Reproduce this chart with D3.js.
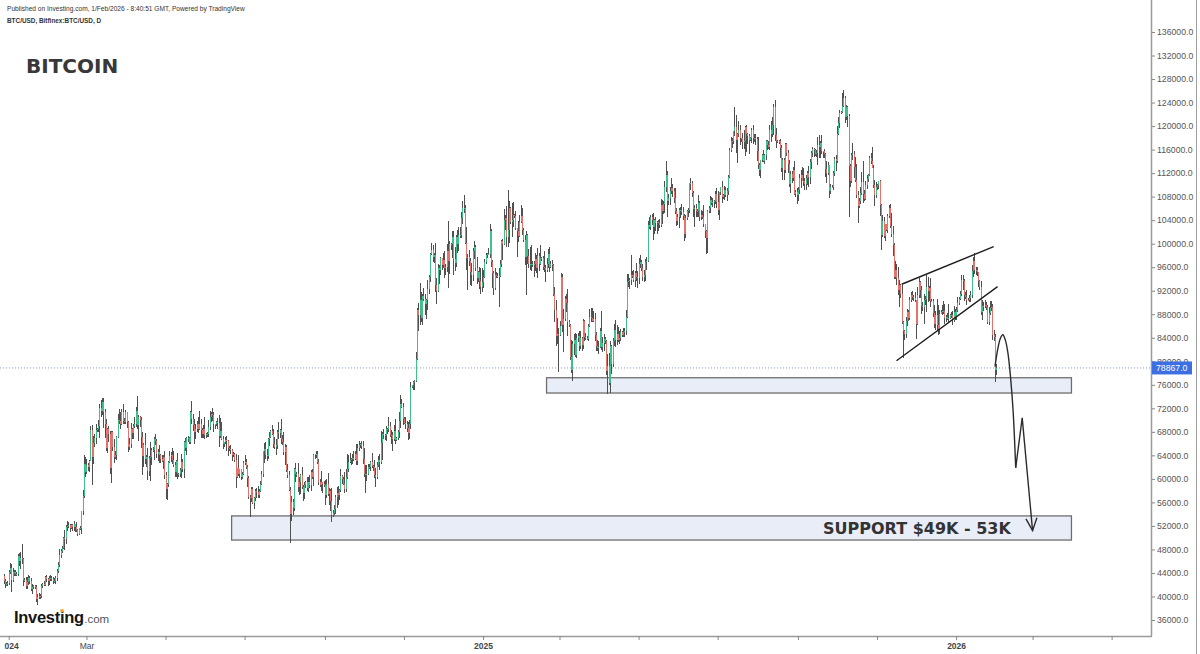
<!DOCTYPE html>
<html><head><meta charset="utf-8">
<script src="https://cdn.jsdelivr.net/npm/d3@7"></script>
<style>html,body{margin:0;padding:0;background:#fff;}svg{display:block;}</style>
</head><body>
<svg id="c" width="1200" height="654"></svg>
<script>
// ---------- DATA (prices in thousands of USD, daily candles from 2023-12-28) ----------
const startDate = "2023-12-28";
const firstOpen = 43.4;
const closes = [
/*Dec23*/42.6,42.1,42.2,42.3,
/*Jan24*/44.2,44.9,42.8,44.2,44.2,43.9,43.9,46.9,46.1,46.6,46.3,42.8,42.8,41.7,42.5,43.1,42.7,41.3,41.6,41.7,41.6,39.5,39.9,40.1,40.0,41.8,42.1,42.0,43.3,42.9,42.6,
/*Feb24*/43.1,43.2,43.0,42.6,42.7,43.1,44.3,45.3,47.1,47.8,48.3,50.0,49.7,51.8,52.0,52.1,51.7,52.1,51.8,52.3,51.9,51.3,50.7,51.6,51.7,54.5,57.1,62.5,61.2,
/*Mar24*/62.4,62.0,63.1,68.3,63.8,66.1,66.9,68.3,68.5,69.0,72.1,71.5,73.1,71.4,69.4,65.3,68.4,67.6,61.9,67.9,65.5,63.8,64.0,67.2,70.0,69.9,69.4,71.3,69.9,69.6,71.3,
/*Apr24*/69.7,65.5,66.0,68.5,67.8,69.0,69.4,71.6,69.1,70.6,70.0,67.1,63.9,65.7,63.4,63.8,61.3,63.5,63.8,64.9,64.9,66.8,66.4,64.3,64.5,64.0,63.4,63.1,63.8,60.6,
/*May24*/58.3,59.1,62.9,63.9,64.0,63.2,62.3,61.2,63.1,60.8,60.8,61.5,62.9,61.6,66.3,65.2,67.0,67.0,66.3,71.4,70.1,69.1,67.9,68.5,69.3,68.5,69.4,68.3,67.6,68.4,67.5,
/*Jun24*/67.7,67.7,68.8,70.5,71.1,70.8,69.3,69.3,69.6,69.5,67.3,68.2,66.8,66.0,66.2,66.6,66.5,65.2,65.0,64.9,64.1,64.2,63.2,60.3,61.8,60.9,61.6,60.3,60.9,62.7,
/*Jul24*/62.9,62.1,60.2,57.0,56.7,58.2,55.9,56.7,58.0,57.7,57.3,57.9,59.2,60.8,64.7,65.1,64.1,63.9,66.7,67.2,68.2,67.6,65.9,65.4,65.8,67.9,67.8,68.3,66.8,66.2,64.6,
/*Aug24*/65.4,61.5,60.7,58.1,54.0,56.0,55.0,61.7,60.9,60.9,58.7,59.4,60.6,58.7,57.6,58.9,59.5,58.4,59.5,59.0,61.2,60.4,64.1,64.2,64.2,62.8,59.4,59.0,59.4,59.1,58.9,
/*Sep24*/57.3,59.1,57.5,58.0,56.2,53.9,54.2,54.9,57.0,57.6,57.3,58.1,60.5,60.0,59.2,58.2,60.3,61.7,62.9,63.2,63.3,63.6,63.3,64.3,63.1,65.2,65.8,65.9,65.6,63.3,
/*Oct24*/60.8,60.6,60.8,62.1,62.1,62.8,62.2,62.1,60.6,60.3,62.4,63.2,62.9,66.1,67.6,67.4,67.4,68.4,68.4,69.0,67.4,67.4,66.7,68.2,66.6,67.0,68.0,69.9,72.7,72.3,70.2,
/*Nov24*/69.5,69.3,68.7,67.8,69.4,75.6,75.9,76.5,76.7,80.4,88.7,87.9,90.5,87.3,91.1,90.6,89.8,90.5,92.3,94.3,98.3,98.9,97.7,98.0,93.0,91.9,95.9,95.6,97.5,96.4,
/*Dec24*/97.2,95.8,96.0,98.8,97.0,99.9,99.9,101.2,97.4,96.7,101.2,100.0,101.4,101.4,104.3,106.0,106.1,100.2,97.5,97.8,97.1,95.1,94.7,98.7,99.4,95.8,94.2,95.2,93.6,92.6,93.4,
/*Jan25*/94.4,96.9,98.1,98.2,98.3,102.1,96.9,95.0,92.5,94.7,94.5,94.5,94.5,96.5,100.5,99.9,104.1,104.4,101.1,102.3,106.1,103.7,104.0,104.8,104.7,102.6,102.1,101.3,103.7,104.7,102.4,
/*Feb25*/100.6,97.7,101.4,97.9,96.6,96.6,96.5,96.5,96.5,97.4,95.8,97.9,96.6,97.5,97.6,96.1,95.8,95.5,96.6,98.3,96.1,96.6,96.3,91.5,88.7,84.3,84.7,84.4,
/*Mar25*/86.0,94.3,86.1,87.2,90.6,89.9,86.7,86.2,80.7,78.6,82.9,83.7,81.0,83.9,84.3,82.6,84.0,82.7,86.8,84.2,84.0,83.8,86.0,87.5,87.4,86.9,87.2,84.4,82.6,82.3,82.5,
/*Apr25*/85.2,82.5,83.1,83.8,83.5,78.4,79.2,76.3,82.6,79.6,83.4,85.3,83.7,84.6,83.6,84.0,84.9,84.4,85.0,85.2,87.5,93.4,93.7,93.9,94.7,94.6,93.8,95.0,94.3,94.2,
/*May25*/96.5,96.9,95.9,94.3,94.7,96.8,97.0,103.2,102.9,104.6,104.1,102.8,104.1,103.5,103.7,103.5,103.2,106.5,105.6,106.8,109.6,111.7,107.3,107.8,109.0,109.4,108.9,107.8,105.6,103.9,104.6,
/*Jun25*/105.7,105.8,105.4,104.7,101.6,104.4,105.6,105.7,110.3,110.3,108.7,105.9,106.1,105.5,105.5,106.9,104.6,104.9,104.6,103.3,102.2,100.9,105.5,106.0,107.4,106.9,107.1,107.3,108.4,107.1,
/*Jul25*/105.7,108.8,109.6,108.0,108.2,109.2,108.3,108.9,111.3,115.9,117.5,117.4,119.1,119.8,117.7,118.7,119.3,117.9,117.9,117.3,117.4,119.9,118.7,118.3,117.6,117.9,119.4,118.0,117.9,117.8,115.7,
/*Aug25*/113.3,112.5,114.2,115.0,114.1,115.0,117.5,116.7,116.5,119.3,118.7,120.2,123.3,118.4,117.4,117.5,117.4,116.2,112.9,114.3,112.5,116.9,115.4,113.5,110.1,111.8,111.2,112.6,108.4,108.8,108.2,
/*Sep25*/109.2,111.2,111.7,110.7,110.7,110.2,111.1,112.1,111.4,113.9,115.5,116.1,115.9,115.3,115.4,116.8,116.5,117.1,115.7,115.7,115.3,112.7,112.0,113.3,109.0,109.7,109.6,112.1,114.4,114.0,
/*Oct25*/118.6,120.6,122.3,122.4,123.5,124.8,121.5,123.3,121.7,113.2,110.7,115.1,115.3,113.0,110.8,108.2,106.4,107.2,108.6,110.5,108.4,107.6,110.0,111.0,111.6,114.5,114.1,112.9,110.0,108.3,109.6,
/*Nov25*/110.0,110.6,106.5,101.5,103.9,101.3,103.3,102.3,104.7,106.0,103.0,101.6,99.7,94.4,95.6,94.2,92.2,92.9,91.5,86.6,85.1,84.6,86.8,88.3,87.3,90.5,91.3,90.9,90.8,90.4,
/*Dec25*/86.3,91.3,93.5,92.1,89.4,89.3,90.4,90.6,92.7,92.0,92.5,90.3,90.3,88.2,86.4,87.8,86.2,85.5,88.1,88.3,88.6,88.5,87.4,87.6,87.2,87.3,87.8,87.8,87.1,88.4,87.5,
/*Jan26*/88.7,89.9,90.6,91.4,93.8,93.7,91.3,91.0,90.5,90.4,90.8,91.2,95.4,97.0,95.6,95.5,95.1,93.6,92.6,88.3,89.4,89.4,89.5,89.2,86.6,88.2,89.1,89.2,84.5,84.1,78.6,
/*Feb26*/78.867
];
// wick lengths in hundreds of USD above max(open,close) / below min(open,close)
const upperWicks = [
5,4,3,4,
3,8,6,6,3,3,3,3,5,10,24,2,3,5,8,5,4,5,5,3,3,3,6,5,3,4,2,5,2,4,3,
3,4,2,3,5,3,3,5,9,3,3,1,13,3,9,5,3,3,3,6,1,7,2,1,3,1,10,15,12,
10,3,1,7,9,12,7,11,2,10,6,13,7,7,5,8,3,6,5,3,3,13,8,1,11,19,14,6,14,5,4,
1,1,10,10,1,3,11,6,25,3,1,5,8,4,21,3,14,4,24,4,6,3,9,3,6,13,2,7,2,9,
6,2,2,8,5,12,15,6,1,13,2,3,14,5,1,7,1,3,1,1,19,10,11,8,5,12,22,7,4,8,22,
1,3,12,11,3,9,5,0,3,7,13,22,14,5,1,5,7,1,4,7,2,4,2,10,1,22,1,1,2,3,
11,5,3,3,3,4,5,2,3,4,11,3,4,5,1,10,11,10,2,8,1,10,8,13,10,4,18,2,18,6,18,
5,3,10,7,6,11,5,1,10,3,18,10,3,14,2,6,1,9,8,11,3,5,1,1,5,5,5,6,19,1,5,
9,8,19,4,2,23,5,6,2,10,12,2,12,1,4,20,14,26,12,12,3,7,12,4,17,8,7,2,6,9,
19,15,16,4,5,2,16,2,11,12,4,7,11,20,3,9,3,6,2,16,7,9,5,10,19,1,3,15,16,9,6,
4,10,6,10,6,8,1,1,1,12,3,12,28,12,3,14,8,1,16,3,2,13,9,5,21,12,7,5,2,1,
13,15,5,11,51,5,2,10,10,21,3,12,15,15,11,12,22,4,26,4,11,4,16,6,10,3,19,1,9,22,25,
11,5,4,3,9,12,4,3,3,11,4,5,14,8,2,3,18,5,20,68,11,2,29,23,2,8,0,17,11,18,14,
3,8,8,3,12,28,31,5,6,10,7,13,5,23,2,3,27,6,10,8,12,5,7,3,12,18,26,9,
9,7,5,17,5,9,24,3,2,30,6,10,11,7,5,9,11,2,4,3,6,3,3,14,15,17,13,10,6,10,10,
5,33,10,8,3,2,20,22,9,1,6,11,17,16,12,12,6,3,6,4,12,14,11,2,34,6,10,4,17,10,
10,11,4,6,8,6,8,7,14,2,5,11,1,5,1,4,7,11,10,5,11,23,7,6,7,17,8,6,17,4,5,
4,4,10,9,3,4,1,3,0,9,4,2,5,6,4,13,3,8,6,19,1,1,2,4,7,6,7,1,5,11,
18,0,1,10,3,6,4,6,3,3,6,4,1,34,20,1,16,9,1,9,20,1,2,1,3,2,2,7,6,8,4,
25,5,1,2,10,3,2,1,8,8,16,14,5,11,13,1,1,4,6,3,3,3,3,6,8,5,6,5,14,4,7,
5,6,8,14,22,5,5,3,11,5,2,4,2,2,5,13,16,3,14,1,4,2,14,6,1,5,3,3,4,6,
14,9,4,2,21,14,4,3,1,4,3,3,18,4,18,28,7,6,11,17,35,8,6,6,3,4,10,23,4,8,9,
2,1,3,3,9,7,1,1,4,6,7,23,14,5,15,9,18,9,3,15,3,3,7,6,5,5,4,6,3,10,
1,14,6,2,7,6,10,5,19,16,3,17,3,3,13,7,28,33,6,5,10,16,12,2,6,25,2,6,8,10,5,
5,11,3,5,9,9,3,5,12,3,5,8,10,8,14,4,5,1,2,10,10,6,10,6,4,11,11,11,6,9,5,
6
];
const lowerWicks = [
4,6,3,5,
3,3,20,3,8,4,4,5,10,15,7,10,4,4,4,5,5,4,8,3,3,5,10,4,5,2,3,2,3,4,8,
7,4,3,5,3,5,5,3,3,6,4,3,18,7,6,3,7,3,6,7,9,3,4,3,3,10,6,4,8,
4,6,8,1,48,12,7,10,3,5,20,10,6,27,25,5,9,14,11,26,8,11,4,8,3,6,9,2,6,2,3,
11,10,6,7,11,10,3,6,6,26,11,18,32,19,9,13,15,8,39,15,3,17,6,8,12,13,7,3,14,6,
18,19,4,2,10,6,2,9,9,8,5,4,13,5,15,4,12,7,4,4,7,9,19,12,5,7,2,13,6,7,7,
5,5,6,5,8,9,14,8,3,10,18,3,2,9,6,3,18,13,2,7,10,3,3,19,2,4,7,5,3,3,
4,4,15,5,32,6,2,10,4,9,5,6,2,3,5,20,8,9,5,11,3,1,7,3,14,7,10,8,9,4,6,
22,3,6,2,49,12,11,5,15,5,10,15,20,4,14,11,5,5,7,6,10,5,16,8,6,3,5,4,10,15,2,
18,5,4,20,16,13,3,4,8,20,18,9,4,8,3,6,4,3,6,2,8,7,2,1,8,7,4,6,6,8,
5,30,10,2,5,7,4,8,4,17,3,4,14,3,29,6,8,9,8,5,3,14,20,2,7,2,4,10,12,3,11,
1,8,7,12,10,10,1,8,14,2,2,28,17,6,12,3,19,26,18,9,8,2,9,10,12,21,2,25,10,8,
6,17,11,8,45,22,9,23,28,14,7,16,12,4,5,10,8,2,19,53,9,22,19,11,13,5,11,8,13,11,8,
9,2,4,6,1,7,8,25,13,3,3,3,53,2,4,26,2,18,16,16,22,4,25,12,3,3,43,10,2,2,9,
3,14,65,13,8,11,12,5,22,11,8,17,13,2,4,5,7,21,4,7,10,3,9,4,21,17,14,62,
1,0,11,46,4,15,24,4,5,6,20,18,3,4,6,8,5,10,6,8,3,2,4,2,7,3,3,10,9,5,10,
3,5,10,13,6,7,39,3,17,17,5,8,13,10,4,6,6,2,3,8,8,1,7,14,9,4,3,12,7,18,
10,6,5,6,9,10,13,2,4,5,9,21,12,14,18,14,5,4,23,5,15,8,28,8,13,6,10,9,5,9,7,
20,14,5,7,12,6,4,11,5,11,8,13,31,9,9,9,8,6,4,4,12,27,25,2,8,4,6,10,5,10,
8,16,6,10,4,8,3,10,7,2,3,11,5,8,23,40,6,12,6,12,12,25,31,14,23,2,7,11,6,11,16,
6,10,14,3,2,5,7,8,4,6,14,6,18,10,12,3,5,16,7,20,17,5,5,15,4,15,8,5,1,5,14,
9,8,17,1,9,11,11,11,18,12,12,7,12,4,6,21,20,20,5,11,7,14,17,4,13,6,1,5,6,17,
2,1,10,3,2,3,9,4,19,86,10,3,9,18,3,4,29,4,4,3,15,4,2,7,5,1,5,0,5,19,6,
5,7,18,26,4,4,9,1,4,3,4,5,18,4,4,12,10,29,7,3,45,9,7,8,5,2,5,4,6,4,
25,1,6,14,13,7,30,8,23,20,18,10,2,7,8,11,11,10,8,1,5,4,10,8,2,5,1,5,9,5,5,
5,3,4,1,3,15,11,4,10,2,3,8,4,11,7,9,6,10,5,5,12,9,4,4,3,5,4,5,8,6,21,
9
];
const lastPrice = 78867.0;
const yTicks = [36000,40000,44000,48000,52000,56000,60000,64000,68000,72000,76000,80000,84000,88000,92000,96000,100000,104000,108000,112000,116000,120000,124000,128000,132000,136000];
const xTickDates = ["2024-01-01","2024-03-01","2024-05-01","2024-07-01","2024-09-01","2024-11-01","2025-01-01","2025-03-01","2025-05-01","2025-07-01","2025-09-01","2025-11-01","2026-01-01","2026-03-01","2026-05-01"];
const xTickLabels = ["2024","Mar","","","","","2025","","","","","","2026","",""];
// support zones
const zoneStartDates = ["2025-02-19","2024-06-21"];
const zoneEndDates = ["2026-03-31","2026-03-31"];
const zoneTops = [77.2, 53.7];
const zoneBottoms = [74.6, 49.6];
// rising wedge
const wedgeUpperDates = ["2025-11-20","2026-01-30"];
const wedgeUpperPrices = [93.1, 99.5];
const wedgeLowerDates = ["2025-11-16","2026-02-02"];
const wedgeLowerPrices = [80.1, 92.7];
// projected path
const arcDates = ["2026-01-31","2026-02-02","2026-02-04","2026-02-06","2026-02-08","2026-02-10","2026-02-12","2026-02-14","2026-02-16"];
const arcPrices = [79.1, 81.9, 83.8, 84.5, 83.6, 81.4, 77.3, 71.5, 61.9];
const legDates = ["2026-02-16","2026-02-21","2026-03-01"];
const legPrices = [61.9, 70.4, 51.2];

// ---------- SCALES ----------
const svg = d3.select("#c");
const PLOT_R = 1151, PLOT_B = 636;
const x = d3.scaleUtc().domain([new Date("2024-01-01"), new Date("2026-01-01")]).range([8.7, 956.1]);
const y = d3.scaleLinear().domain([36000, 136000]).range([620, 32]);
const K = 1000;

const defs = svg.append("defs");
defs.append("clipPath").attr("id","plotClip").append("rect").attr("x",0).attr("y",0).attr("width",PLOT_R).attr("height",PLOT_B);
defs.append("clipPath").attr("id","xAxisClip").append("rect").attr("x",4.5).attr("y",-2).attr("width",PLOT_R-4.5).attr("height",30);

// ---------- HEADER ----------
svg.append("text").attr("x",7).attr("y",10.5).attr("font-family","'Liberation Sans',Arial,sans-serif")
  .attr("font-size",6.6).attr("fill","#333").text("Published on Investing.com, 1/Feb/2026 - 8:40:51 GMT, Powered by TradingView");
svg.append("text").attr("x",7).attr("y",22.5).attr("font-family","'Liberation Sans',Arial,sans-serif")
  .attr("font-size",6.4).attr("font-weight","bold").attr("fill","#333").text("BTC/USD, Bitfinex:BTC/USD, D");

svg.append("text").attr("x",26).attr("y",73).attr("font-family","'DejaVu Sans',Verdana,sans-serif")
  .attr("font-size",20).attr("font-weight","bold").attr("fill","#383838").text("BITCOIN");

const plot = svg.append("g").attr("clip-path","url(#plotClip)");

// ---------- SUPPORT ZONES ----------
zoneTops.forEach((t,i)=>{
  const x0 = x(new Date(zoneStartDates[i])), x1 = x(new Date(zoneEndDates[i]));
  const y0 = y(t*K), y1 = y(zoneBottoms[i]*K);
  plot.append("rect").attr("x",x0).attr("y",y0).attr("width",x1-x0).attr("height",y1-y0)
    .attr("fill","#e9edf7").attr("stroke","#6e6e6e").attr("stroke-width",1.3);
});

// ---------- LAST PRICE LINE ----------
plot.append("line").attr("x1",0).attr("x2",PLOT_R).attr("y1",y(lastPrice)).attr("y2",y(lastPrice))
  .attr("stroke","#7f98e6").attr("stroke-width",1).attr("stroke-dasharray","1,2");

// ---------- CANDLES ----------
const n = Math.min(closes.length, upperWicks.length, lowerWicks.length);
const start = new Date(startDate);
const candles = d3.range(n).map(i=>{
  const o = i===0 ? firstOpen : closes[i-1];
  const c = closes[i];
  return {date: d3.utcDay.offset(start, i), o, c,
          h: Math.max(o,c) + upperWicks[i]/10, l: Math.min(o,c) - lowerWicks[i]/10};
});
const cg = plot.append("g").attr("shape-rendering","crispEdges");
cg.selectAll("rect.wick").data(candles).join("rect").attr("class","wick")
  .attr("x",d=>Math.round(x(d.date))).attr("width",1)
  .attr("y",d=>y(d.h*K)).attr("height",d=>Math.max(1,y(d.l*K)-y(d.h*K)))
  .attr("fill","#505050");
cg.selectAll("rect.body").data(candles).join("rect").attr("class","body")
  .attr("x",d=>Math.round(x(d.date))).attr("width",1)
  .attr("y",d=>y(Math.max(d.o,d.c)*K)).attr("height",d=>Math.max(1,Math.abs(y(d.o*K)-y(d.c*K))))
  .attr("fill",d=>d.c>=d.o ? "#3fbf8a" : "#e6736b");

// ---------- WEDGE ----------
const lineGen = d3.line().x(d=>x(new Date(d[0]))).y(d=>y(d[1]*K));
plot.append("path").attr("d",lineGen(d3.zip(wedgeUpperDates,wedgeUpperPrices)))
  .attr("fill","none").attr("stroke","#1e1e1e").attr("stroke-width",1.4);
plot.append("path").attr("d",lineGen(d3.zip(wedgeLowerDates,wedgeLowerPrices)))
  .attr("fill","none").attr("stroke","#1e1e1e").attr("stroke-width",1.4);

// ---------- PROJECTION ----------
const arcGen = d3.line().x(d=>x(new Date(d[0]))).y(d=>y(d[1]*K)).curve(d3.curveCatmullRom);
plot.append("path").attr("d",arcGen(d3.zip(arcDates,arcPrices)))
  .attr("fill","none").attr("stroke","#2b2b2b").attr("stroke-width",1.4);
plot.append("path").attr("d",lineGen(d3.zip(legDates,legPrices)))
  .attr("fill","none").attr("stroke","#2b2b2b").attr("stroke-width",1.4);
{
  const m = legDates.length;
  const tx = x(new Date(legDates[m-1])), ty = y(legPrices[m-1]*K);
  const px = x(new Date(legDates[m-2])), py = y(legPrices[m-2]*K);
  const ang = Math.atan2(py-ty, px-tx), L = 13.5, th = 24*Math.PI/180;
  const w1 = [tx+L*Math.cos(ang+th), ty+L*Math.sin(ang+th)];
  const w2 = [tx+L*Math.cos(ang-th), ty+L*Math.sin(ang-th)];
  plot.append("path").attr("d",`M${w1[0]},${w1[1]}L${tx},${ty}L${w2[0]},${w2[1]}`)
    .attr("fill","none").attr("stroke","#2b2b2b").attr("stroke-width",1.4);
}

// ---------- SUPPORT LABEL ----------
svg.append("text").attr("x",823).attr("y",(y(zoneTops[1]*K)+y(zoneBottoms[1]*K))/2+6)
  .attr("font-family","'DejaVu Sans',Verdana,sans-serif").attr("font-size",16).attr("font-weight","bold")
  .attr("fill","#333").text("SUPPORT $49K - 53K");

// ---------- INVESTING LOGO ----------
const logo = svg.append("text").attr("x",14).attr("y",622.5).attr("font-family","'Liberation Sans',Arial,sans-serif")
  .attr("font-size",16.5).attr("font-weight","bold").attr("letter-spacing",-0.3).attr("fill","#151515").text("Investing");
const lw = logo.node().getComputedTextLength();
svg.append("text").attr("x",14+lw+0.5).attr("y",622.5).attr("font-family","'Liberation Sans',Arial,sans-serif")
  .attr("font-size",11.5).attr("fill","#555").text(".com");
try {
  const ext = logo.node().getExtentOfChar(6);
  svg.append("rect").attr("x",ext.x+ext.width/2-1.6).attr("y",609.2).attr("width",3.2).attr("height",2.8).attr("fill","#f4a21d");
} catch(e) {}

// ---------- AXES ----------
const fontAxis = "'Liberation Sans',Arial,sans-serif";
svg.append("line").attr("x1",PLOT_R+0.5).attr("x2",PLOT_R+0.5).attr("y1",0).attr("y2",PLOT_B)
  .attr("stroke","#9a9a9a").attr("stroke-width",1.5);
svg.append("line").attr("x1",0).attr("x2",PLOT_R+1).attr("y1",PLOT_B+0.5).attr("y2",PLOT_B+0.5)
  .attr("stroke","#9a9a9a").attr("stroke-width",1.5);
svg.append("line").attr("x1",1196.5).attr("x2",1196.5).attr("y1",0).attr("y2",654)
  .attr("stroke","#a0a0a0").attr("stroke-width",1);

const yAxis = svg.append("g").attr("transform",`translate(${PLOT_R+1},0)`)
  .call(d3.axisRight(y).tickValues(yTicks).tickSize(3).tickPadding(2).tickFormat(d=>d3.format(".1f")(d)));
yAxis.select(".domain").remove();
yAxis.selectAll("line").attr("stroke","#888");
yAxis.selectAll("text").attr("font-family",fontAxis).attr("font-size",8.7).attr("fill","#555");

const xAxis = svg.append("g").attr("transform",`translate(0,${PLOT_B})`).attr("clip-path","url(#xAxisClip)")
  .call(d3.axisBottom(x).tickValues(xTickDates.map(d=>new Date(d))).tickSize(4).tickPadding(3)
  .tickFormat((d,i)=>xTickLabels[i]));
xAxis.select(".domain").remove();
xAxis.selectAll("line").attr("stroke","#888");
xAxis.selectAll("text").attr("font-family",fontAxis).attr("font-size",8.5).attr("fill","#444")
  .attr("font-weight",(d,i)=>/^\d{4}$/.test(xTickLabels[i]) ? "bold" : "normal");

// ---------- LAST PRICE LABEL ----------
const ly = y(lastPrice);
svg.append("rect").attr("x",PLOT_R+1).attr("y",ly-6.5).attr("width",40).attr("height",13).attr("fill","#3c6fe4");
svg.append("text").attr("x",PLOT_R+5).attr("y",ly+3).attr("font-family",fontAxis).attr("font-size",8.7)
  .attr("fill","#fff").text(d3.format(".1f")(lastPrice));
</script>
</body></html>
